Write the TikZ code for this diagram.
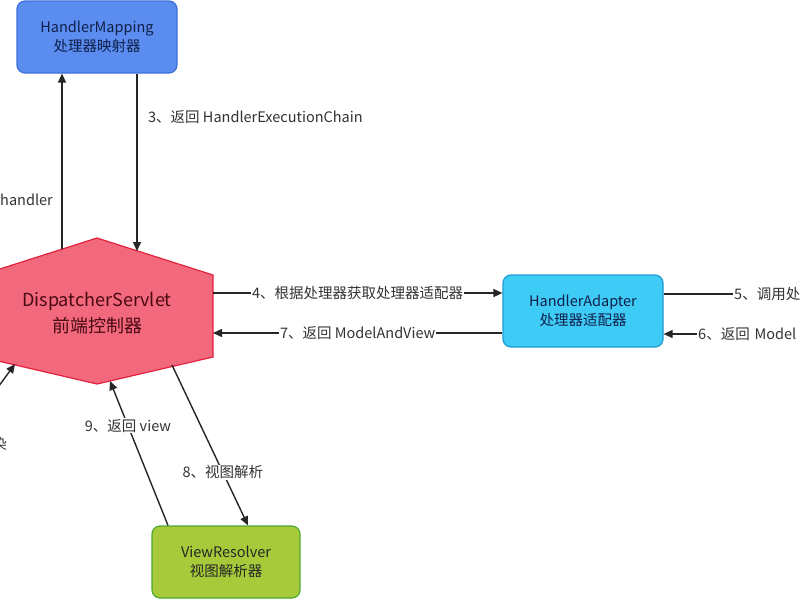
\documentclass[tikz,border=0pt]{standalone}
\usepackage{fontspec}
\setmainfont{Noto Sans CJK SC}
\usetikzlibrary{arrows.meta,positioning}
\definecolor{mapfill}{HTML}{5B8CF0}
\definecolor{mapdraw}{HTML}{3B6FD9}
\definecolor{adpfill}{HTML}{3ECBF6}
\definecolor{adpdraw}{HTML}{1F9BD1}
\definecolor{resfill}{HTML}{A6CA3A}
\definecolor{resdraw}{HTML}{4EA832}
\definecolor{dspfill}{HTML}{F2687C}
\definecolor{dspdraw}{HTML}{E3223D}
\definecolor{dsptext}{HTML}{4A0A14}
\definecolor{boxtext}{HTML}{10204A}
\definecolor{labeltext}{HTML}{333333}
\begin{document}
\begin{tikzpicture}[x=1pt, y=-1pt,
	caixa/.style={draw, rounded corners=8pt, line width=1.2pt, minimum width=160pt,
		minimum height=72pt, align=center, text=boxtext, font=\fontsize{14.5}{19}\selectfont},
	seta/.style={draw=black!85, line width=1.4pt, -{Triangle[length=9pt, width=8pt]}},
	rotulo/.style={fill=white, inner sep=1pt, text=labeltext, font=\fontsize{14.5}{17}\selectfont}]
	\useasboundingbox (0,0) rectangle (800,600);
	\clip (0,0) rectangle (800,600);
		% Controlador
		\filldraw [fill=dspfill, draw=dspdraw, line width=1.2pt]
			(-19,275) -- (97,238) -- (213,275) -- (213,357) -- (97,384) -- (-19,357) -- cycle;
		\node [align=center, text=dsptext, font=\fontsize{18}{26}\selectfont] (ds) at (97,313)
			{DispatcherServlet\\前端控制器};
		% Caixas
		\node [caixa, fill=mapfill, draw=mapdraw] (hm) at (97,37) {HandlerMapping\\处理器映射器};
		\node [caixa, fill=adpfill, draw=adpdraw] (ha) at (583,311) {HandlerAdapter\\处理器适配器};
		\node [caixa, fill=resfill, draw=resdraw, minimum width=148pt, text=black!85] (vr) at (226,562)
			{ViewResolver\\视图解析器};
		% Pontos no hexágono
		\coordinate (h2) at (62,249);
		\coordinate (h3) at (137,251);
		\coordinate (h4) at (213,293);
		\coordinate (h7) at (213,333);
		\coordinate (h8) at (172,365);
		\coordinate (h9) at (110,381);
		\coordinate (h10) at (15,364);
		% Pontas fora do quadro
		\coordinate (r5) at (860,294);
		\coordinate (r6) at (860,334);
		\coordinate (l10) at (-15,405);
		% Setas
		\draw [seta] (h2) -- (h2 |- hm.south);
		\draw [seta] (hm.south -| h3) -- (h3);
		\draw [seta] (h4) -- node [rotulo] {4、根据处理器获取处理器适配器} (h4 -| ha.west);
		\draw [seta] (ha.west |- h7) -- node [rotulo] {7、返回 ModelAndView} (h7);
		\draw [seta] (ha.east |- r5) -- (r5);
		\draw [seta] (r6) -- (ha.east |- r6);
		\draw [seta] (h8) -- node [rotulo, pos=0.67] {8、视图解析} ([xshift=22pt]vr.north);
		\draw [seta] ([xshift=-58pt]vr.north) -- node [rotulo, pos=0.69] {9、返回 view} (h9);
		\draw [seta] (l10) -- (h10);
		% Rótulos
		\node [rotulo, anchor=west] (t3) at (147,117) {3、返回 HandlerExecutionChain};
		\node [rotulo, anchor=east] (t2) at (54,200) {handler};
		\node [rotulo, anchor=west, text width=110pt, align=left] (t5) at (733,294) {5、调用处};
		\node [rotulo, anchor=west, text width=110pt, align=left] (t6) at (697,334) {6、返回 Model};
		\node [rotulo, anchor=east] (t10) at (8,444) {染};
\end{tikzpicture}
\end{document}
